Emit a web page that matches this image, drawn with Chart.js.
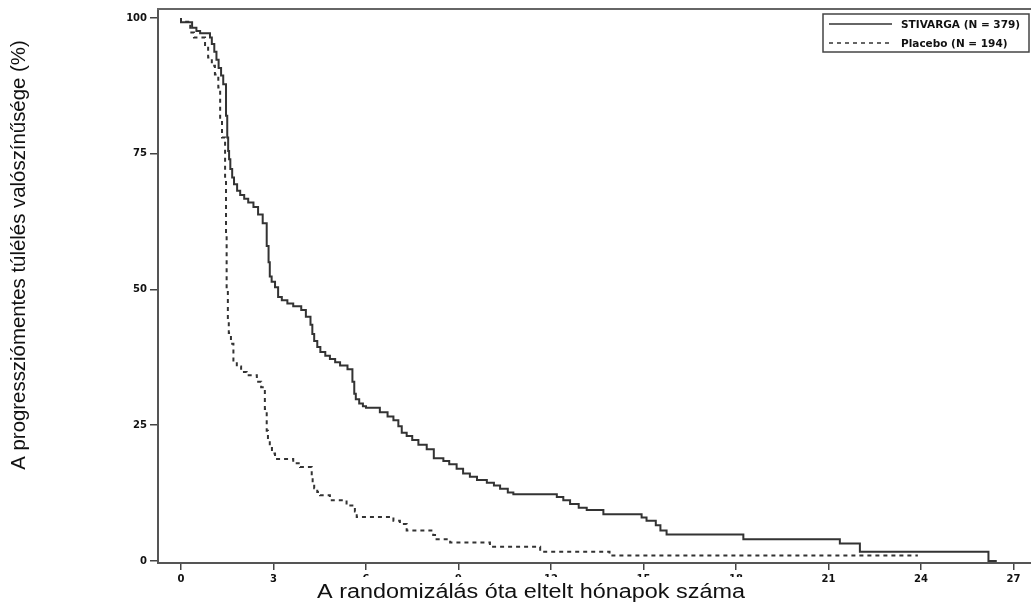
<!DOCTYPE html>
<html lang="hu">
<head>
  <meta charset="UTF-8">
  <title>Progressziómentes túlélés</title>
  <style>
    body { margin: 0; padding: 0; background: #fff; }
    #wrap { width: 1031px; height: 604px; }
  </style>
</head>
<body>
<div id="wrap"><canvas id="kmChart" width="1031" height="604"></canvas></div>

<script src="https://cdn.jsdelivr.net/npm/chart.js"></script>
<script>
  // Kaplan-Meier curves (months, % progression free)
  const stivargaMonths = [0, 0.36, 0.5, 0.62, 0.94, 1.0, 1.08, 1.15, 1.22, 1.3, 1.37, 1.46, 1.5, 1.53, 1.56, 1.6,
    1.66, 1.72, 1.82, 1.92, 2.05, 2.18, 2.35, 2.5, 2.65, 2.78, 2.84, 2.88, 2.94, 3.05, 3.15, 3.27, 3.45, 3.64,
    3.9, 4.05, 4.2, 4.26, 4.32, 4.42, 4.52, 4.68, 4.83, 5.0, 5.16, 5.4, 5.56, 5.62, 5.67, 5.78, 5.9, 6.0, 6.45,
    6.7, 6.89, 7.05, 7.16, 7.32, 7.5, 7.7, 7.97, 8.2, 8.51, 8.7, 8.94, 9.15, 9.37, 9.6, 9.92, 10.15, 10.35,
    10.6, 10.78, 12.19, 12.4, 12.62, 12.9, 13.16, 13.7, 14.94, 15.1, 15.4, 15.55, 15.75, 18.24, 21.37, 22.02,
    26.19, 26.46];
  const stivargaPfs = [100, 99.2, 98.2, 97.6, 97.2, 96.4, 95.2, 93.8, 92.3, 90.8, 89.4, 87.8, 82, 78, 75.5, 74.0,
    72.2, 70.6, 69.4, 68.2, 67.4, 66.7, 66.0, 65.2, 63.8, 62.2, 58, 55, 52.4, 51.4, 50.4, 48.6, 48.0, 47.4,
    46.9, 46.2, 45.0, 43.5, 41.8, 40.5, 39.4, 38.5, 37.8, 37.2, 36.6, 36.0, 35.3, 33, 30.8, 29.8, 29.0, 28.5, 28.2,
    27.4, 26.6, 25.9, 24.8, 23.6, 23.0, 22.3, 21.4, 20.6, 18.9, 18.4, 17.8, 17.0, 16.1, 15.5, 14.9, 14.4, 13.9,
    13.3, 12.6, 12.3, 11.8, 11.2, 10.5, 9.8, 9.4, 8.6, 8.0, 7.4, 6.6, 5.6, 4.9, 4.0, 3.2,
    1.7, 0];

  const placeboMonths = [0, 0.3, 0.42, 0.78, 0.88, 1.0, 1.1, 1.21, 1.27, 1.33, 1.43, 1.46, 1.48, 1.52, 1.55, 1.62,
    1.7, 1.81, 1.95, 2.13, 2.46, 2.6, 2.72, 2.78, 2.82, 2.88, 2.95, 3.05, 3.64, 3.86, 4.24, 4.27, 4.32, 4.42,
    4.51, 4.83, 5.37, 5.64, 5.7, 6.89, 7.1, 7.32, 8.18, 8.29, 8.73, 10.02, 11.65, 13.9, 15.37, 23.9];
  const placeboPfs = [100, 99.3, 97.3, 96.4, 94.5, 92.7, 91.2, 89.6, 87.2, 81.1, 78, 70, 60, 50, 44.3, 42,
    40, 36.9, 35.8, 34.8, 34.2, 33.0, 32.0, 28, 24, 22.2, 20.8, 19.8, 18.8, 18.0, 17.3, 15.5, 14.3, 13.4,
    12.7, 12.1, 11.2, 10.2, 9.1, 8.1, 7.4, 6.8, 5.6, 4.8, 4.0, 3.4, 2.6, 1.7, 1.0, 1.0];

  const xTicks = [0, 3, 6, 9, 12, 15, 18, 21, 24, 27];
  const yTicks = [0, 25, 50, 75, 100];
  const seriesNames = ['STIVARGA (N = 379)', 'Placebo (N = 194)'];
  const xTitle = 'A randomizálás óta eltelt hónapok száma';
  const yTitle = 'A progressziómentes túlélés valószínűsége (%)';

  const toPoints = (xs, ys) => xs.map((x, i) => ({ x: x, y: ys[i] }));

  const tickFont = { family: 'DejaVu Sans', weight: 'bold', size: 10 };
  const lineColor = '#333';

  // frame top line, legend box and axis titles
  const decor = {
    id: 'decor',
    afterDraw(chart) {
      const ctx = chart.ctx;
      const a = chart.chartArea;
      ctx.save();

      ctx.strokeStyle = '#666';
      ctx.lineWidth = 2;
      ctx.beginPath();
      ctx.moveTo(a.left - 1, a.top);
      ctx.lineTo(a.right, a.top);
      ctx.stroke();

      // legend
      ctx.strokeStyle = '#444';
      ctx.lineWidth = 1.5;
      ctx.strokeRect(823, 14, 206, 38);
      const rows = [24, 43];
      chart.data.datasets.forEach((ds, i) => {
        ctx.strokeStyle = ds.borderColor;
        ctx.lineWidth = 1.5;
        ctx.setLineDash(ds.borderDash || []);
        ctx.beginPath();
        ctx.moveTo(829, rows[i]);
        ctx.lineTo(892, rows[i]);
        ctx.stroke();
        ctx.setLineDash([]);
        ctx.fillStyle = '#111';
        ctx.font = 'bold 10.5px "DejaVu Sans"';
        ctx.textBaseline = 'middle';
        ctx.textAlign = 'left';
        ctx.fillText(ds.label, 901, rows[i] + 1);
      });

      // x title sits on a white box that hides part of the tick labels
      ctx.font = '20px "Liberation Sans", Arial';
      const stretch = 1.17;
      const w = ctx.measureText(xTitle).width * stretch;
      const cx = 531;
      ctx.fillStyle = '#fff';
      ctx.fillRect(cx - w / 2 - 3, 577, w + 6, 27);
      ctx.fillStyle = '#111';
      ctx.textAlign = 'center';
      ctx.textBaseline = 'alphabetic';
      ctx.save();
      ctx.translate(cx, 598);
      ctx.scale(stretch, 1);
      ctx.fillText(xTitle, 0, 0);
      ctx.restore();

      ctx.translate(25, 255);
      ctx.rotate(-Math.PI / 2);
      ctx.font = '20.4px "Liberation Sans", Arial';
      ctx.fillText(yTitle, 0, 0);
      ctx.restore();
    }
  };

  new Chart(document.getElementById('kmChart'), {
    type: 'line',
    data: {
      datasets: [
        {
          label: seriesNames[0],
          data: toPoints(stivargaMonths, stivargaPfs),
          borderColor: lineColor,
          borderWidth: 2,
          stepped: 'after',
          pointRadius: 0
        },
        {
          label: seriesNames[1],
          data: toPoints(placeboMonths, placeboPfs),
          borderColor: lineColor,
          borderWidth: 2,
          borderDash: [4, 4],
          stepped: 'after',
          pointRadius: 0
        }
      ]
    },
    options: {
      responsive: false,
      animation: false,
      layout: { padding: { top: 8, right: 0, left: 0, bottom: 0 } },
      plugins: {
        legend: { display: false },
        tooltip: { enabled: false }
      },
      scales: {
        x: {
          type: 'linear',
          min: -0.746,
          max: 27.57,
          afterBuildTicks: s => { s.ticks = xTicks.map(v => ({ value: v })); },
          afterFit: s => { s.height = 41; },
          grid: { drawOnChartArea: false, drawTicks: true, tickLength: 7, color: '#444', lineWidth: 1.5 },
          border: { display: true, color: '#555', width: 2 },
          ticks: { font: tickFont, color: '#111', padding: 3, maxRotation: 0 }
        },
        y: {
          min: -0.37,
          max: 101.65,
          afterBuildTicks: s => { s.ticks = yTicks.map(v => ({ value: v })); },
          afterFit: s => { s.width = 158; },
          grid: { drawOnChartArea: false, drawTicks: true, tickLength: 8, color: '#444', lineWidth: 1.5 },
          border: { display: true, color: '#555', width: 2 },
          ticks: { font: tickFont, color: '#111', padding: 3 }
        }
      }
    },
    plugins: [decor]
  });
</script>
</body>
</html>
